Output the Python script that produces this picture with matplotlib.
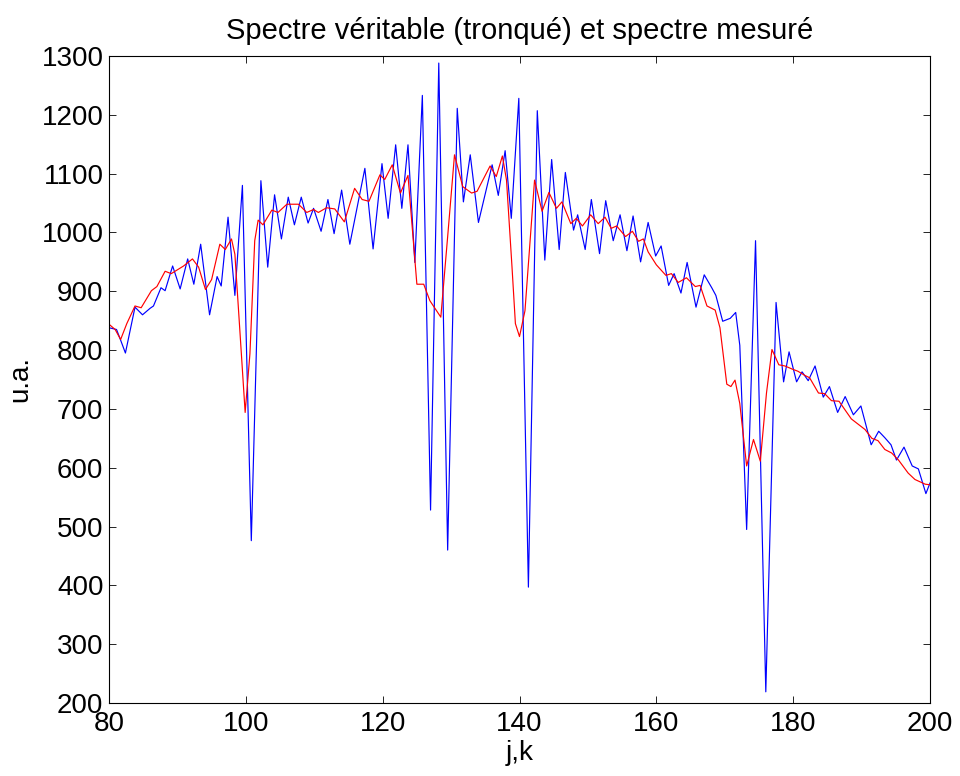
import matplotlib
matplotlib.use("Agg")
import matplotlib.pyplot as plt

plt.rcParams['font.family'] = ['Liberation Sans', 'DejaVu Sans']

# True spectrum (blue)
blue_x = [80.0, 81.1, 81.6, 82.4, 83.8, 84.9, 86.0, 86.5, 87.6, 88.2, 89.3, 90.4, 91.5, 92.4,
          93.4, 94.7, 95.8, 96.4, 97.4, 98.4, 99.5, 100.8, 102.2, 103.2, 104.2, 105.2, 106.2,
          107.1, 108.1, 109.1, 109.9, 111.0, 112.0, 112.9, 114.0, 115.2, 117.4, 118.6, 119.9,
          120.8, 121.9, 122.8, 123.7, 124.7, 125.8, 127.0, 128.2, 129.5, 130.9, 131.8, 132.8,
          134.0, 136.0, 136.9, 137.9, 138.8, 139.9, 141.3, 142.6, 143.7, 144.7, 145.8, 146.7,
          147.9, 148.5, 149.6, 150.5, 151.7, 152.6, 153.7, 154.7, 155.7, 156.6, 157.7, 158.8,
          159.9, 160.7, 161.8, 162.6, 163.6, 164.5, 165.8, 167.0, 168.1, 168.7, 169.7, 170.8,
          171.6, 172.2, 173.2, 174.5, 176.0, 177.5, 178.6, 179.4, 180.5, 181.3, 182.2, 183.2,
          184.4, 185.3, 186.5, 187.6, 188.8, 189.9, 191.4, 192.5, 193.4, 194.3, 195.1, 196.2,
          197.4, 198.3, 199.4, 200.0]
blue_y = [838, 835, 820, 795, 873, 860, 871, 875, 906, 901, 943, 904, 955, 912,
          980, 860, 925, 909, 1026, 893, 1080, 476, 1088, 941, 1064, 989, 1060,
          1013, 1060, 1016, 1041, 1002, 1056, 998, 1072, 980, 1109, 972, 1117,
          1024, 1149, 1041, 1149, 949, 1233, 528, 1288, 460, 1211, 1052, 1132,
          1017, 1115, 1063, 1139, 1024, 1228, 397, 1207, 953, 1124, 971, 1102,
          1004, 1030, 971, 1056, 964, 1054, 986, 1030, 969, 1028, 950, 1017,
          960, 977, 910, 930, 897, 949, 873, 928, 906, 893, 849, 854,
          864, 808, 495, 986, 219, 881, 746, 797, 746, 763, 748, 773,
          720, 738, 694, 721, 690, 705, 639, 662, 651, 639, 613, 635,
          603, 598, 556, 574]

red_x = [80.0, 80.9, 81.7, 82.6, 83.8, 84.7, 86.2, 87.0, 88.2, 89.1, 90.9, 92.2, 93.1, 94.1,
         95.0, 96.2, 97.0, 97.9, 98.4, 99.1, 99.9, 100.6, 101.3, 101.8, 102.5, 103.8, 104.7,
         106.0, 107.7, 108.9, 109.9, 110.6, 111.8, 113.0, 114.4, 115.9, 117.0, 118.0, 119.6,
         120.3, 121.4, 122.6, 123.7, 125.0, 126.0, 126.9, 128.5, 129.5, 130.5, 131.7, 133.0,
         133.8, 135.7, 136.6, 137.5, 138.1, 138.9, 139.4, 140.0, 140.8, 142.2, 143.3, 144.3,
         145.4, 146.2, 147.5, 148.3, 149.2, 150.4, 151.5, 152.5, 153.4, 154.2, 155.5, 156.5,
         157.4, 158.1, 158.8, 160.0, 161.4, 162.2, 163.2, 164.4, 165.7, 166.4, 167.4, 168.6,
         169.3, 170.3, 170.9, 171.5, 172.2, 173.2, 174.2, 175.2, 176.1, 176.9, 177.9, 178.8,
         179.8, 180.7, 181.7, 182.4, 183.7, 184.6, 185.6, 186.7, 188.5, 190.5, 191.5, 192.4,
         193.4, 194.4, 195.4, 196.8, 197.8, 199.3, 200.0]
red_y = [844, 835, 818, 845, 875, 872, 901, 908, 934, 930, 943, 955, 941, 903,
         920, 980, 971, 989, 963, 838, 694, 794, 986, 1021, 1013, 1038, 1034,
         1048, 1048, 1034, 1039, 1034, 1042, 1040, 1018, 1075, 1056, 1053, 1098,
         1090, 1115, 1067, 1097, 912, 912, 884, 856, 993, 1132, 1078, 1067,
         1070, 1113, 1095, 1130, 1089, 942, 845, 823, 867, 1089, 1036, 1068,
         1041, 1052, 1015, 1024, 1011, 1030, 1015, 1026, 1007, 1011, 993, 1002,
         985, 989, 967, 945, 927, 930, 915, 923, 908, 910, 875, 868,
         838, 742, 738, 749, 709, 603, 648, 611, 727, 801, 775, 773,
         768, 764, 757, 753, 727, 726, 714, 713, 683, 665, 650, 646,
         631, 625, 613, 591, 580, 572, 571]

x_ticks = [80, 100, 120, 140, 160, 180, 200]
y_ticks = [200, 300, 400, 500, 600, 700, 800, 900, 1000, 1100, 1200, 1300]

fig = plt.figure(figsize=(9.6, 7.76), dpi=100)
ax = fig.add_axes([109 / 960, 73 / 776, 821 / 960, 647 / 776])
ax.plot(blue_x, blue_y, color='#0000ff', lw=0.85)
ax.plot(red_x, red_y, color='#ff0000', lw=0.85)

ax.set_xlim(80, 200)
ax.set_ylim(200, 1300)
ax.set_xticks(x_ticks)
ax.set_yticks(y_ticks)
ax.tick_params(direction='in', length=5, width=0.6, top=True, right=True,
               labelsize=20, colors='black')
ax.tick_params(axis='y', pad=4)
ax.tick_params(axis='x', pad=6)
for s in ax.spines.values():
    s.set_linewidth(0.8)

ax.set_title('Spectre véritable (tronqué) et spectre mesuré', fontsize=21, pad=12)
ax.set_xlabel('j,k', fontsize=20, labelpad=2)
ax.set_ylabel('u.a.', fontsize=20, labelpad=6)

fig.savefig('out.png', dpi=100)
